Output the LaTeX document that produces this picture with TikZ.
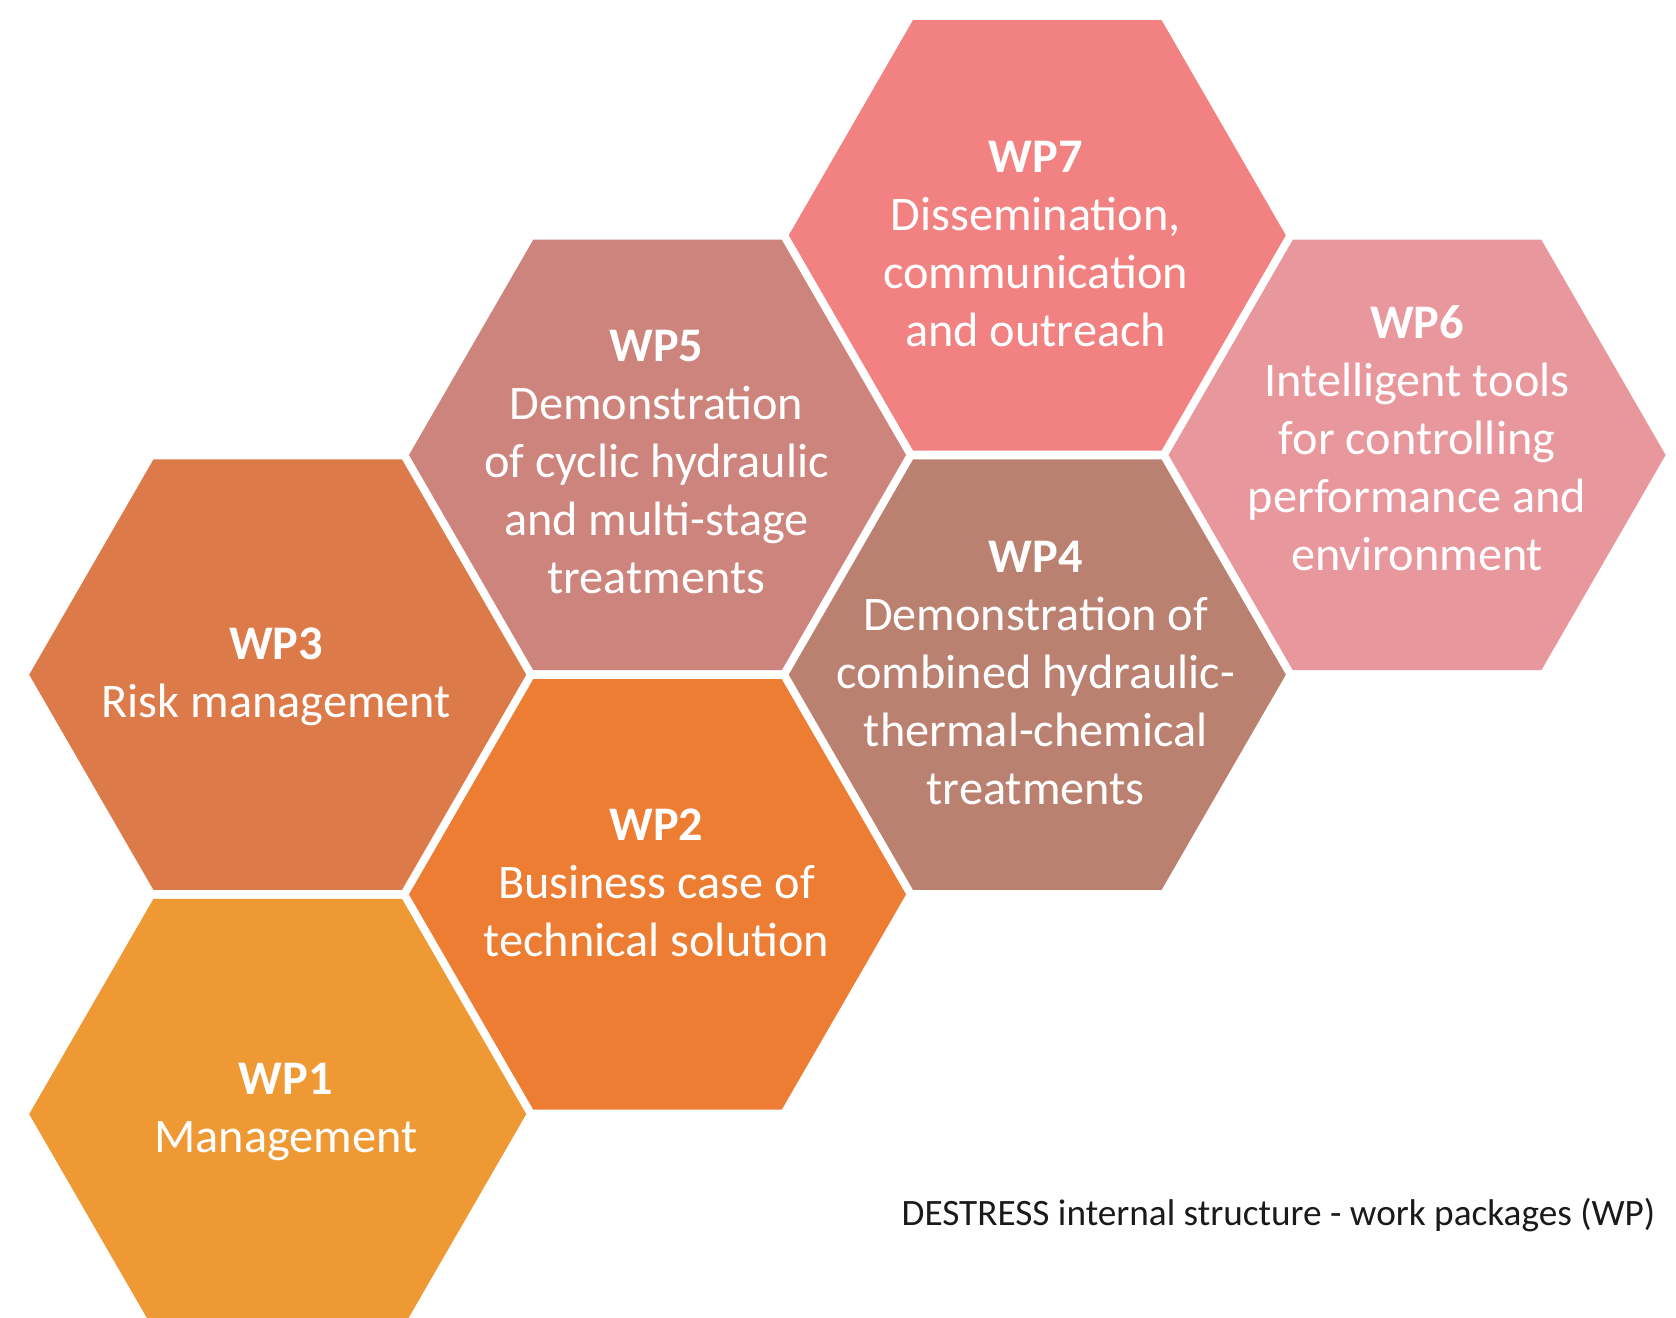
\documentclass[tikz,border=0pt]{standalone}
\usepackage{fontspec}
\setmainfont{Carlito}
\usepackage{tikz}
\usetikzlibrary{shapes}

\definecolor{wpone}{RGB}{238,153,51}
\definecolor{wptwo}{RGB}{236,125,51}
\definecolor{wpthree}{RGB}{221,122,74}
\definecolor{wpfour}{RGB}{186,129,112}
\definecolor{wpfive}{RGB}{205,132,124}
\definecolor{wpsix}{RGB}{232,151,157}
\definecolor{wpseven}{RGB}{242,129,129}

\tikzset{
  hexa/.style={regular polygon, regular polygon sides=6, minimum size=347pt, inner sep=0pt, outer sep=0pt},
  wptext/.style={align=center, text=white, inner sep=0.75pt, font=\fontsize{33.7}{40.5}\selectfont},
}

\begin{document}
\begin{tikzpicture}[x=0.75pt,y=0.75pt,yscale=-1,xscale=1]
\useasboundingbox (0,0) rectangle (1560,1226);
\clip (0,0) rectangle (1560,1226);
% hexagons
\node [hexa, fill=wpone] (wp1) at (258.5,1037) {};
\node [hexa, fill=wptwo] (wp2) at (612,832.5) {};
\node [hexa, fill=wpthree] (wp3) at (258.5,628) {};
\node [hexa, fill=wpfour] (wp4) at (965.5,628) {};
\node [hexa, fill=wpfive] (wp5) at (612,423.5) {};
\node [hexa, fill=wpsix] (wp6) at (1319,423.5) {};
\node [hexa, fill=wpseven] (wp7) at (965.5,219) {};
% labels
\node [wptext] (wp1text) at (266,1035) {\textbf{WP1}\\Management};
\node [wptext] (wp2text) at (611,822) {\textbf{WP2}\\Business case of\\technical solution};
\node [wptext] (wp3text) at (257,630) {\textbf{WP3}\\Risk management};
\node [wptext] (wp4text) at (964,626) {\textbf{WP4}\\Demonstration of\\combined hydraulic-\\thermal-chemical\\treatments};
\node [wptext] (wp5text) at (611,430) {\textbf{WP5}\\Demonstration\\of cyclic hydraulic\\and multi-stage\\treatments};
\node [wptext] (wp6text) at (1319,408) {\textbf{WP6}\\Intelligent tools\\for controlling\\performance and\\environment};
\node [wptext] (wp7text) at (964,227) {\textbf{WP7}\\Dissemination,\\communication\\and outreach};
\node [anchor=east, inner sep=0pt, text={rgb,255:red,26;green,26;blue,26}, font=\fontsize{26}{31}\selectfont] (caption) at (1541,1131) {DESTRESS internal structure - work packages (WP)};
\end{tikzpicture}
\end{document}
